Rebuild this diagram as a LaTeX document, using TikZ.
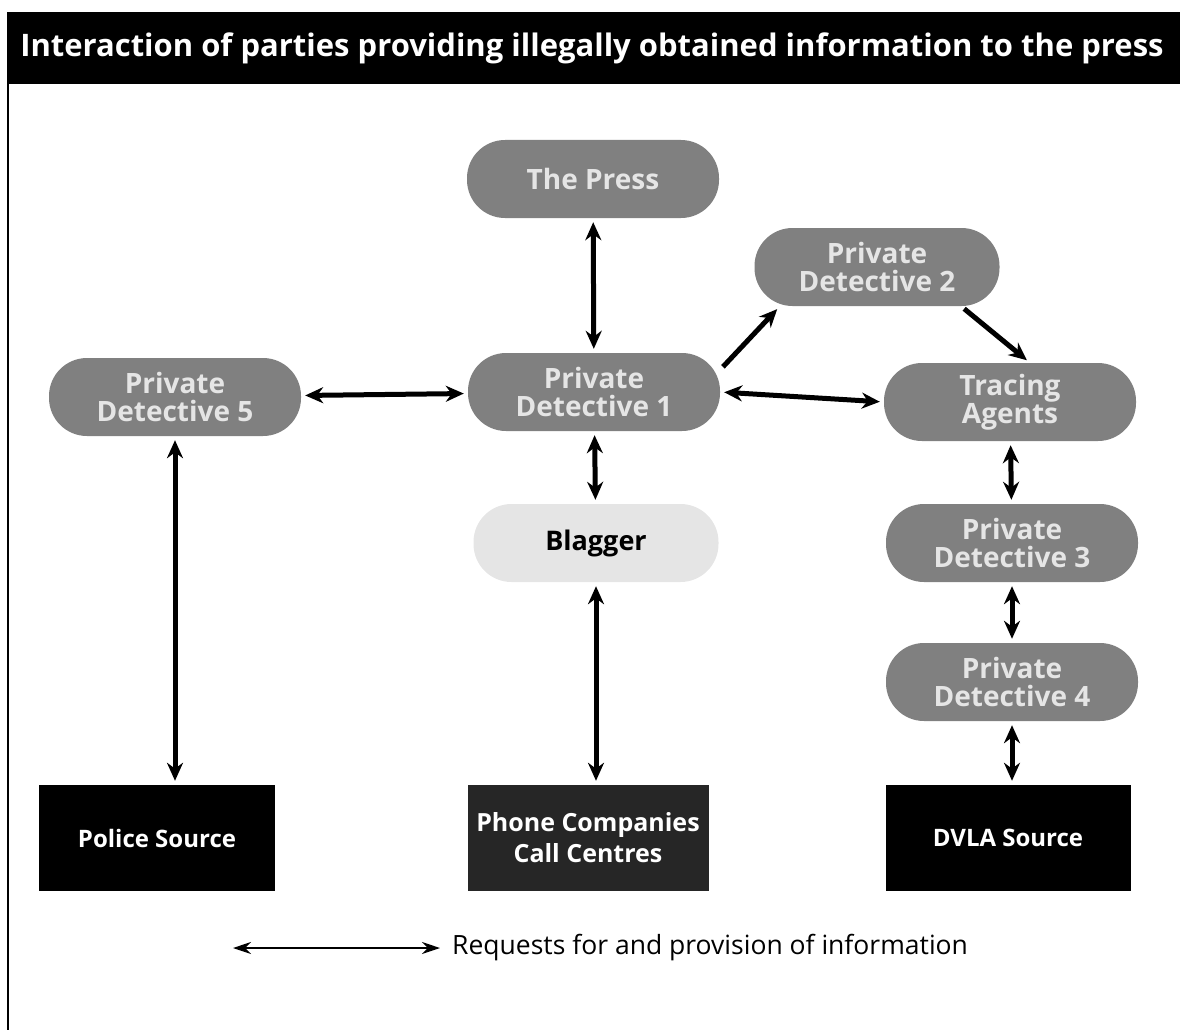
\documentclass[tikz,border=0pt]{standalone}
\usepackage{fontspec}
\setmainfont{Open Sans}
\usetikzlibrary{arrows.meta,positioning}

\begin{document}
\begin{tikzpicture}[x=1pt,y=-1pt,
    pill/.style={fill=black!50,text=black!10,rounded corners=38pt,minimum width=252pt,minimum height=78pt,
      align=center,font=\bfseries\fontsize{28}{28}\selectfont,inner sep=0pt},
    src/.style={fill=black,text=white,minimum width=236pt,minimum height=106pt,
      align=center,font=\bfseries\fontsize{24}{31}\selectfont,inner sep=0pt},
    link/.style={{Stealth[length=18pt,width=16pt]}-{Stealth[length=18pt,width=16pt]},line width=5pt,shorten <=4pt,shorten >=4pt},
    oneway/.style={-{Stealth[length=18pt,width=16pt]},line width=5pt,shorten <=4pt,shorten >=4pt}]
     \useasboundingbox (0,0) rectangle (1180,1030);
     \fill (7,12) rectangle (1180,84);%title bar
     \draw[line width=2pt] (8,84)--(8,1030);
     \node[text=white,font=\bfseries\fontsize{31}{34}\selectfont] (title) at (592,48) {Interaction of parties providing illegally obtained information to the press};

     \node[pill] (press) at (593,179) {The Press};
     \node[pill] (pd1) at (594,392) {Private\\Detective 1};
     \node[pill,minimum width=245pt] (pd2) at (877,267) {Private\\Detective 2};
     \node[pill] (ta) at (1010,402) {Tracing\\Agents};
     \node[pill] (pd5) at (175,397) {Private\\Detective 5};
     \node[pill,fill=black!10,text=black,minimum width=245pt,font=\bfseries\fontsize{27}{28}\selectfont] (blag) at (596,543) {Blagger};
     \node[pill] (pd3) at (1012,543) {Private\\Detective 3};
     \node[pill] (pd4) at (1012,682) {Private\\Detective 4};

     \node[src] (police) at (157,838) {Police Source};
     \node[src,fill=black!85,minimum width=241pt,font=\bfseries\fontsize{25}{31}\selectfont] (phone) at (588,838) {Phone Companies\\Call Centres};
     \node[src,minimum width=245pt] (dvla) at (1008,838) {DVLA Source};

     \draw[link] (press)--(pd1);
     \draw[link] (pd5)--(pd1);
     \draw[link] (pd1.east)--(ta.west);
     \draw[oneway] (pd1.10)--(pd2.202);
     \draw[oneway] (pd2.-25)--(ta.63);
     \draw[link] (pd1)--(blag);
     \draw[link] (blag.south)--(blag.south|-phone.north);
     \draw[link] (pd5.south)--(pd5.south|-police.north);
     \draw[link] (ta)--(pd3);
     \draw[link] (pd3)--(pd4);
     \draw[link] (pd4.south)--(pd4.south|-dvla.north);

     \coordinate (lgA) at (233,948);
     \coordinate (lgB) at (440,948);
     \draw[{Stealth[length=18pt,width=12pt]}-{Stealth[length=18pt,width=12pt]},line width=2.5pt] (lgA)--(lgB);
     \node[right,inner sep=0pt,font=\fontsize{26.5}{30}\selectfont] (lgtxt) at (452,948) {Requests for and provision of information};
\end{tikzpicture}
\end{document}
